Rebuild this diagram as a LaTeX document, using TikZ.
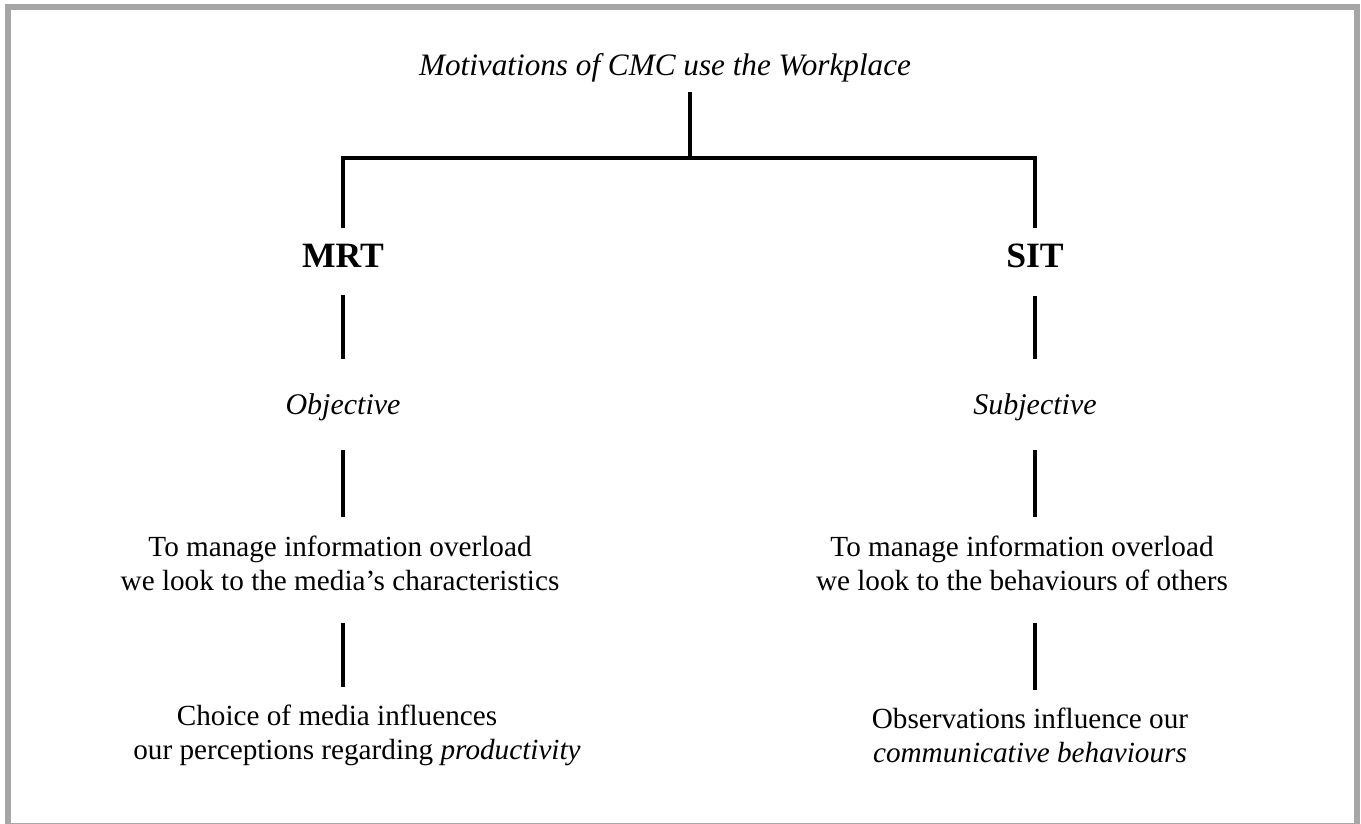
\documentclass[tikz,border=0pt]{standalone}
\usepackage{fontspec}
\setmainfont{Liberation Serif}
\usetikzlibrary{positioning}

\tikzset{
  link/.style  = {line width=1.6pt},
  frame/.style = {draw=gray!70, line width=3pt},
  txt/.style   = {inner sep=0pt, align=center, font=\fontsize{14.6}{17}\selectfont},
  theory/.style = {inner sep=0pt, font=\fontsize{17.8}{20}\selectfont\bfseries},
}

\begin{document}
\begin{tikzpicture}[x=0.5pt, y=-0.5pt]
\useasboundingbox (0,0) rectangle (1361,824);
\draw[frame] (8,7) rectangle (1357,825.5);

\node[txt, font=\fontsize{15.6}{17}\selectfont\itshape, anchor=base] (top) at (665,76)
  {Motivations of CMC use the Workplace};
\coordinate (split) at (690,158); % junction of the bar

\node[theory, anchor=base] (mrt) at (343,267) {MRT};
\node[theory, anchor=base] (sit) at (1035,267) {SIT};

\node[txt, font=\fontsize{15}{17}\selectfont\itshape, anchor=base] (obj) at (343,414) {Objective};
\node[txt, font=\fontsize{15}{17}\selectfont\itshape, anchor=base] (subj) at (1035,414) {Subjective};

\node[txt] (mrtwhy) at (340,563.5)
  {To manage information overload\\we look to the media's characteristics};
\node[txt] (sitwhy) at (1022,563.5)
  {To manage information overload\\we look to the behaviours of others};

\node[txt] (mrtres) at (347,735)
  {Choice of media influences\hspace*{10pt}\\\hspace*{10pt}our perceptions regarding \textit{productivity}};
\node[txt] (sitres) at (1030,735)
  {Observations influence our\\\textit{communicative behaviours}};

% tree lines
\draw[link, shorten <=4.5pt] (split |- top.south) -- (split);
\draw[link, shorten <=7.5pt, shorten >=7.5pt] (mrt) |- (split) -| (sit);

\draw[link, shorten <=14pt, shorten >=16.75pt] (mrt) -- (obj);
\draw[link, shorten <=14pt, shorten >=16.75pt] (sit) -- (subj);

\draw[link, shorten <=14.75pt, shorten >=9.5pt] (obj) -- (obj |- mrtwhy.north);
\draw[link, shorten <=14.75pt, shorten >=9.5pt] (subj) -- (subj |- sitwhy.north);

\draw[link, shorten <=16pt, shorten >=8.5pt] (obj |- mrtwhy.south) -- (obj |- mrtres.north);
\draw[link, shorten <=16pt, shorten >=8.5pt] (subj |- sitwhy.south) -- (subj |- sitres.north);
\end{tikzpicture}
\end{document}
